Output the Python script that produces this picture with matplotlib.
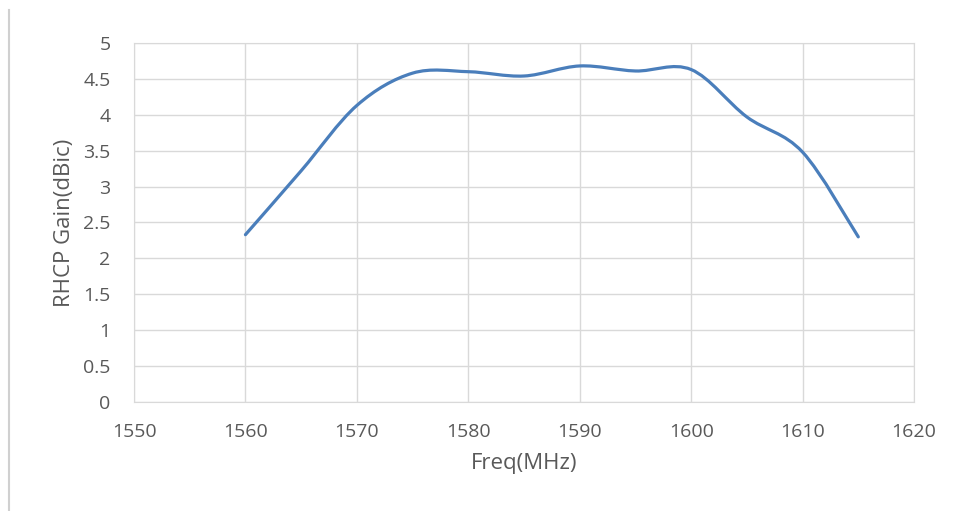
import numpy as np
import matplotlib.pyplot as plt
from matplotlib.path import Path
from matplotlib.patches import PathPatch
from matplotlib.lines import Line2D

# RHCP gain vs frequency, Excel-style smoothed line

freq = [1560, 1565, 1570, 1575, 1580, 1585, 1590, 1595, 1600, 1605, 1610, 1615]
gain = [2.33, 3.22, 4.13, 4.58, 4.60, 4.54, 4.68, 4.61, 4.63, 3.97, 3.48, 2.30]

x_ticks = [1550, 1560, 1570, 1580, 1590, 1600, 1610, 1620]
y_ticks = [0, 0.5, 1, 1.5, 2, 2.5, 3, 3.5, 4, 4.5, 5]
y_labels = ["0", "0.5", "1", "1.5", "2", "2.5", "3", "3.5", "4", "4.5", "5"]

text_color = "#595959"
grid_color = "#d9d9d9"
line_color = "#4a7ebb"

plt.rcParams["font.family"] = ["Open Sans", "DejaVu Sans"]


def smooth_path(xs, ys):
    # Catmull-Rom style Bezier control points (like Excel smoothed lines)
    pts = np.column_stack([xs, ys]).astype(float)
    verts = [pts[0]]
    codes = [Path.MOVETO]
    n = len(pts)
    for i in range(n - 1):
        p0 = pts[i - 1] if i > 0 else pts[i]
        p1 = pts[i]
        p2 = pts[i + 1]
        p3 = pts[i + 2] if i + 2 < n else pts[i + 1]
        c1 = p1 + (p2 - p0) / 6
        c2 = p2 - (p3 - p1) / 6
        verts += [c1, c2, p2]
        codes += [Path.CURVE4] * 3
    return Path(verts, codes)


fig = plt.figure(figsize=(9.62, 5.11), dpi=100)
ax = fig.add_axes([0.1393, 0.2133, 0.8108, 0.7026])

patch = PathPatch(smooth_path(freq, gain), facecolor="none", edgecolor=line_color,
                  linewidth=2.3, capstyle="round", joinstyle="round")
ax.add_patch(patch)

ax.set_xlim(1550, 1620)
ax.set_ylim(0, 5)
ax.set_xticks(x_ticks)
ax.set_yticks(y_ticks)
ax.set_yticklabels(y_labels)
ax.grid(True, color=grid_color, linewidth=1)
ax.set_axisbelow(True)
for side in ["top", "right", "left", "bottom"]:
    ax.spines[side].set_color(grid_color)
ax.tick_params(axis="both", length=0, labelsize=14, colors=text_color)
ax.tick_params(axis="x", pad=15)
ax.tick_params(axis="y", pad=17)

ax.set_xlabel("Freq(MHz)", fontsize=16, color=text_color, labelpad=9)
ax.set_ylabel("RHCP Gain(dBic)", fontsize=16, color=text_color, labelpad=6)

# thin border line on the left of the image
fig.add_artist(Line2D([9 / 962, 9 / 962], [0, 1 - 10 / 511], transform=fig.transFigure,
                      color="#d0d0d0", linewidth=1.5))

fig.savefig("out.png", dpi=100)
